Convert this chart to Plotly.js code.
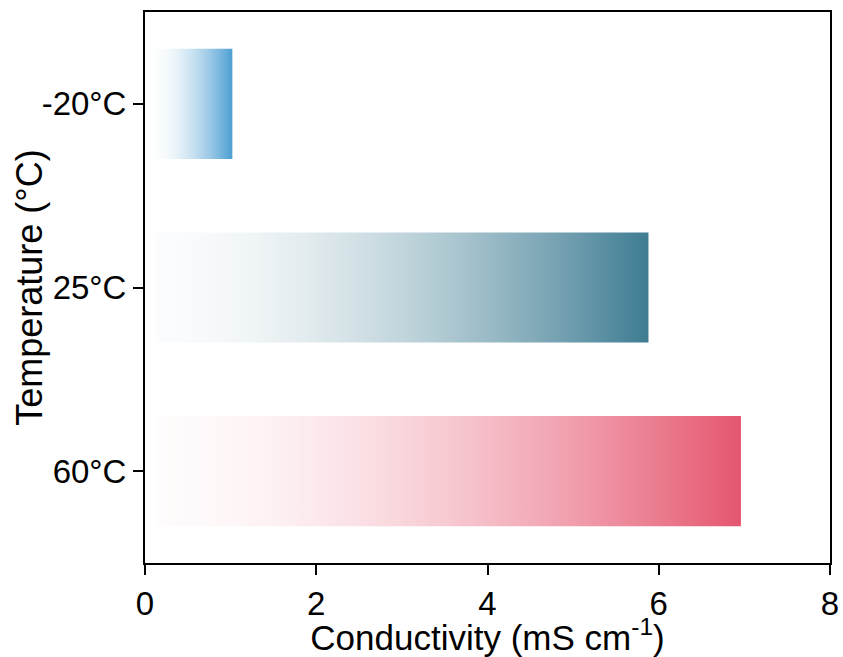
<!DOCTYPE html>
<html>
<head>
<meta charset="utf-8">
<script src="https://cdn.plot.ly/plotly-3.0.1.min.js"></script>
<style>html,body{margin:0;padding:0;background:#fff;}#chart{width:843px;height:657px;}</style>
</head>
<body>
<div id="chart"></div>
<script>
// Data
const categories = ['-20°C', '25°C', '60°C'];
const conductivity = [1.02, 5.88, 6.96];
const barColors = [[76, 158, 210], [62, 124, 146], [229, 86, 111]];
const xTicks = [0, 2, 4, 6, 8];
const xTitle = 'Conductivity (mS cm<sup>-1</sup>)';
const yTitle = 'Temperature (°C)';

const barStart = 0.12;
const halfWidth = 0.3;

function gradScale(rgb) {
  const stops = [];
  const n = 10;
  for (let k = 0; k <= n; k++) {
    const t = k / n;
    const f = 0.02 + 0.98 * Math.pow(t, 1.7);
    const c = rgb.map(v => Math.round(255 + (v - 255) * f));
    stops.push([t, 'rgb(' + c.join(',') + ')']);
  }
  return stops;
}

const traces = categories.map((c, i) => {
  const v = conductivity[i];
  return {
    type: 'scatter',
    mode: 'lines',
    x: [barStart, v, v, barStart, barStart],
    y: [i - halfWidth, i - halfWidth, i + halfWidth, i + halfWidth, i - halfWidth],
    fill: 'toself',
    fillgradient: {type: 'horizontal', colorscale: gradScale(barColors[i])},
    line: {width: 0, color: 'rgba(0,0,0,0)'},
    hoverinfo: 'skip',
    showlegend: false,
    name: c
  };
});

const fontFam = '"Liberation Sans", Arial, sans-serif';
const layout = {
  width: 843, height: 657,
  margin: {l: 145, r: 13, t: 12, b: 94},
  paper_bgcolor: '#fff', plot_bgcolor: '#fff',
  font: {family: fontFam, size: 33, color: '#000'},
  showlegend: false,
  xaxis: {
    range: [0, 8], tickvals: xTicks, ticktext: xTicks.map(String),
    showgrid: false, zeroline: false,
    showline: true, linecolor: '#000', linewidth: 2, mirror: true,
    ticks: 'outside', ticklen: 10, tickwidth: 2, tickcolor: '#000',
    tickfont: {size: 33, family: fontFam},
    title: {text: xTitle, font: {size: 35, family: fontFam}, standoff: 4}
  },
  yaxis: {
    range: [2.5, -0.5], tickvals: categories.map((c, i) => i), ticktext: categories,
    showgrid: false, zeroline: false,
    showline: true, linecolor: '#000', linewidth: 2, mirror: true,
    ticks: 'outside', ticklen: 10, tickwidth: 2, tickcolor: '#000',
    tickfont: {size: 33, family: fontFam}
  },
  annotations: [{
    text: yTitle, textangle: -90, showarrow: false,
    xref: 'paper', yref: 'paper', x: -0.169, y: 0.5,
    xanchor: 'center', yanchor: 'middle',
    font: {size: 36, family: fontFam, color: '#000'}
  }]
};

Plotly.newPlot('chart', traces, layout, {displayModeBar: false, staticPlot: true});
</script>
</body>
</html>
